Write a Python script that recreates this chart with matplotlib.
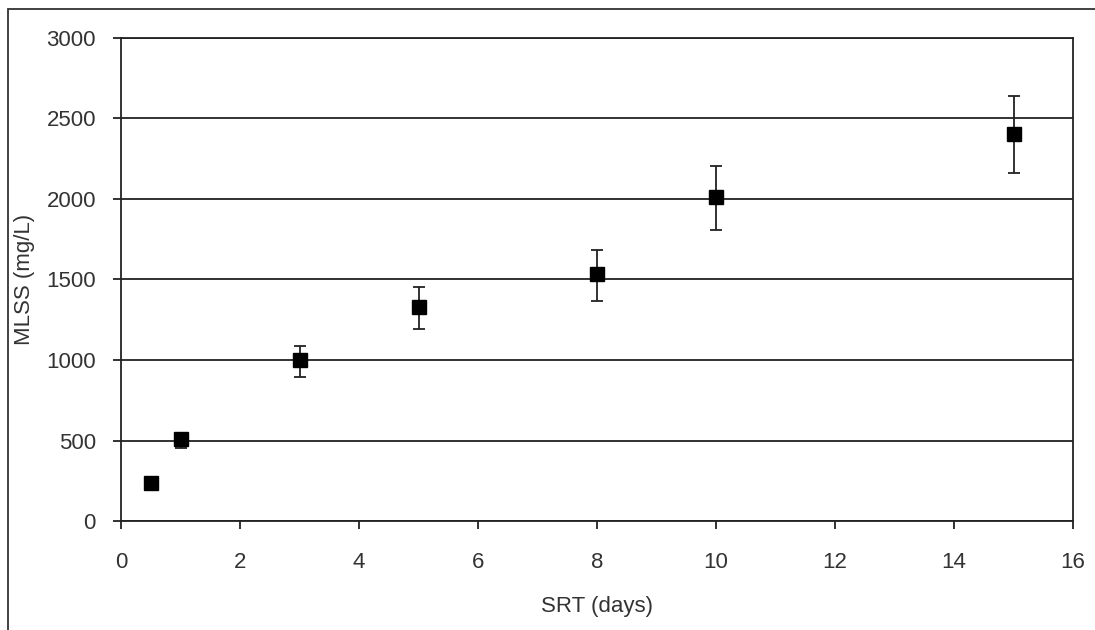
import matplotlib

matplotlib.use("Agg")

import matplotlib.pyplot as plt  # noqa: E402
from matplotlib.patches import Rectangle  # noqa: E402

srt_days = [0.5, 1, 3, 5, 8, 10, 15]
mlss = [236, 509, 1000, 1329, 1534, 2010, 2404]
err_low = [0, 55, 105, 136, 168, 205, 243]
err_high = [0, 0, 85, 124, 149, 198, 236]

x_ticks = [0, 2, 4, 6, 8, 10, 12, 14, 16]
y_ticks = [0, 500, 1000, 1500, 2000, 2500, 3000]

plt.rcParams["font.family"] = ["Liberation Sans", "DejaVu Sans"]

fig = plt.figure(figsize=(10.95, 6.3), dpi=100)
ax = fig.add_axes([0.1105, 0.173, 0.8695, 0.7667])

# error bars only where there is a spread
has_err = [i for i in range(len(srt_days)) if err_low[i] or err_high[i]]
ax.errorbar([srt_days[i] for i in has_err], [mlss[i] for i in has_err],
            yerr=[[err_low[i] for i in has_err], [err_high[i] for i in has_err]],
            fmt="none", ecolor="#222222", elinewidth=1.3, capsize=4,
            capthick=1.3, zorder=2)
ax.plot(srt_days, mlss, "s", color="black", markersize=9.5, zorder=3)

ax.set_xlim(0, 16)
ax.set_ylim(0, 3000)
ax.set_xticks(x_ticks)
ax.set_yticks(y_ticks)
ax.yaxis.grid(True, color="#222222", linewidth=1.3)
ax.set_axisbelow(True)
for side in ax.spines.values():
    side.set_color("#222222")
    side.set_linewidth(1.3)
ax.tick_params(direction="out", length=6, width=1.3, color="#222222",
               labelsize=16, labelcolor="#333333")
ax.tick_params(axis="x", pad=16)
ax.tick_params(axis="y", pad=12)
ax.set_xlabel("SRT (days)", fontsize=16, color="#333333", labelpad=17)
ax.set_ylabel("MLSS (mg/L)", fontsize=16, color="#333333", labelpad=8)

fig.patches.append(Rectangle((8 / 1095, -0.1), 1.2, 1 - 9 / 630 + 0.1,
                             transform=fig.transFigure, fill=False,
                             edgecolor="#333333", linewidth=1.3))

fig.savefig("out.png", dpi=100)
